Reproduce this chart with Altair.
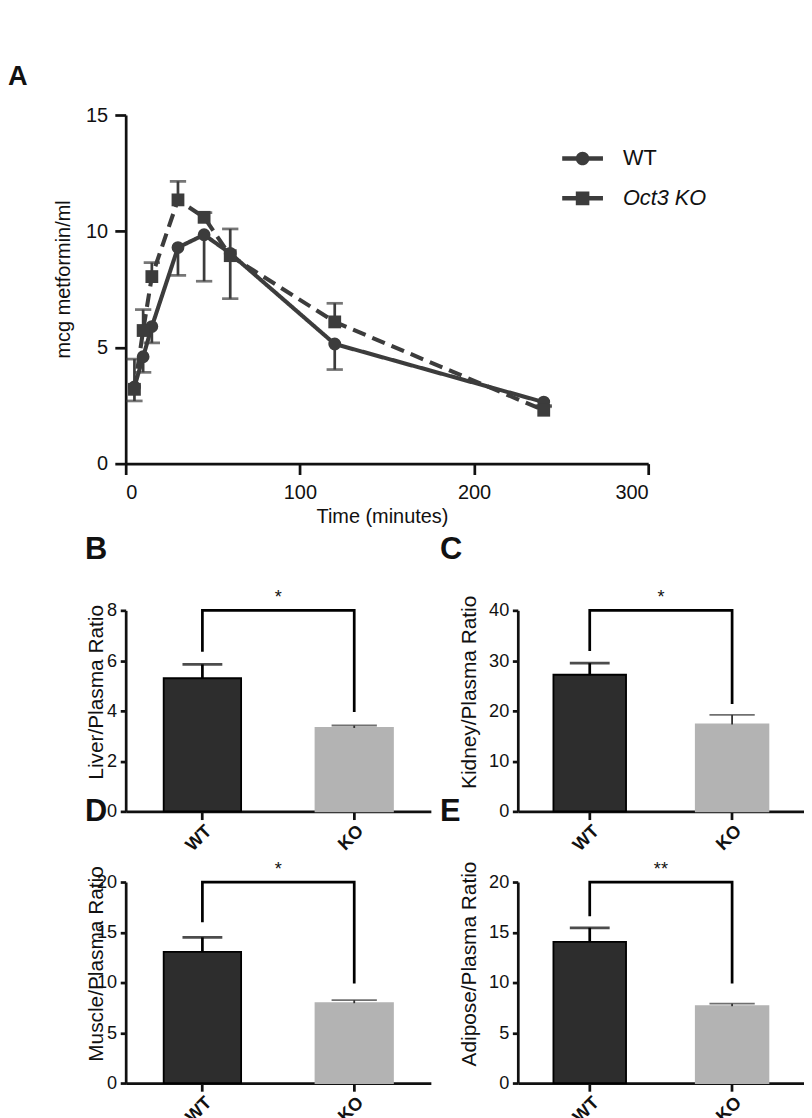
import altair as alt
import pandas as pd

FONT = "Liberation Sans"
INK = "#111111"
SER = "#3c3c3c"
WT_FILL = "#2d2d2d"
KO_FILL = "#b3b3b3"
PAD_IN = 0.49
PAD_OUT = 0.25

# ---------------- Panel A data ----------------
times = [5, 10, 15, 30, 45, 60, 120, 240]
wt_mean = [3.3, 4.6, 5.9, 9.3, 9.85, 9.05, 5.15, 2.65]
wt_err = [0.6, 0.67, 0.7, 1.2, 2.0, 1.95, 1.1, 0.15]
ko_mean = [3.2, 5.73, 8.05, 11.35, 10.6, 8.95, 6.1, 2.3]
ko_err = [1.3, 0.9, 0.6, 0.8, 0.2, 1.15, 0.8, 0.15]
series_names = ["WT", "Oct3 KO"]

# ---------------- Panels B-E data ----------------
groups = ["WT", "KO"]
liver_mean = [5.3, 3.32]
liver_err = [0.55, 0.1]
liver_bracket = [6.35, 3.96]
kidney_mean = [27.2, 17.3]
kidney_err = [2.3, 1.9]
kidney_bracket = [31.9, 21.4]
muscle_mean = [13.05, 7.95]
muscle_err = [1.45, 0.3]
muscle_bracket = [16.0, 9.9]
adipose_mean = [14.05, 7.65]
adipose_err = [1.4, 0.25]
adipose_bracket = [16.6, 9.9]

rows = []
for name, means, errs, sign in [
    (series_names[0], wt_mean, wt_err, -1),
    (series_names[1], ko_mean, ko_err, 1),
]:
    for t, m, e in zip(times, means, errs):
        rows.append({"series": name, "t": t, "mean": m, "end": m + sign * e})
dfA = pd.DataFrame(rows)

WT_PATH = ("M-1,-0.11H1V0.11H-1Z M0.333,0A0.333,0.333,0,1,1,-0.333,0"
           "A0.333,0.333,0,1,1,0.333,0Z")
KO_PATH = "M-1,-0.11H1V0.11H-1Z M-0.333,-0.333H0.333V0.333H-0.333Z"

xA = alt.X(
    "t:Q",
    scale=alt.Scale(domain=[0, 300], nice=False, zero=True),
    axis=alt.Axis(values=[0, 100, 200, 300], title="Time (minutes)",
                  titleX=283, titleY=65, titleAlign="center",
                  titleBaseline="alphabetic", titleFontSize=22,
                  labelFontSize=22, tickSize=12, labelPadding=9),
)
yA_axis = alt.Axis(values=[0, 5, 10, 15], title="mcg metformin/ml",
                   titleX=-62, titleY=181, titleAlign="center",
                   titleBaseline="alphabetic", titleFontSize=22,
                   labelFontSize=22, tickSize=12, labelPadding=8)
yA_scale = alt.Scale(domain=[0, 15], nice=False)

baseA = alt.Chart(dfA)
linesA = baseA.mark_line(color=SER, strokeWidth=4.5).encode(
    x=xA,
    y=alt.Y("mean:Q", scale=yA_scale, axis=yA_axis),
    strokeDash=alt.StrokeDash("series:N",
                              scale=alt.Scale(domain=series_names, range=[[1, 0], [15, 8]]),
                              legend=None),
    detail="series:N",
)
errA = baseA.mark_rule(color=SER, strokeWidth=3).encode(
    x=xA,
    y=alt.Y("mean:Q", scale=yA_scale, axis=yA_axis),
    y2="end:Q",
)
capA = baseA.mark_tick(color=SER, orient="horizontal", size=18, thickness=3).encode(
    x=xA,
    y=alt.Y("end:Q", scale=yA_scale, axis=yA_axis),
)
pointsA = baseA.mark_point(filled=True, size=200, color=SER, opacity=1).encode(
    x=xA,
    y=alt.Y("mean:Q", scale=yA_scale, axis=yA_axis),
    shape=alt.Shape("series:N",
                    scale=alt.Scale(domain=series_names, range=["circle", "square"]),
                    legend=None),
)


def legend_layer(name, path, ly, style):
    return baseA.transform_filter("false").mark_point(
        filled=True, color=SER, opacity=1, size=2025
    ).encode(
        x=xA,
        y=alt.Y("mean:Q", scale=yA_scale, axis=yA_axis),
        shape=alt.Shape("series:N", scale=alt.Scale(domain=[name], range=[path]),
                        legend=alt.Legend(title=None, orient="none", legendX=482,
                                          legendY=ly, padding=0, symbolSize=2025,
                                          symbolStrokeWidth=0, symbolFillColor=SER,
                                          symbolOpacity=1, labelOffset=22,
                                          labelFont=FONT, labelFontSize=24,
                                          labelColor=INK, labelFontStyle=style)),
    )


chartA = alt.layer(
    linesA, errA, capA, pointsA,
    legend_layer(series_names[0], WT_PATH, 25.5, "normal"),
    legend_layer(series_names[1], KO_PATH, 69.5, "italic"),
).resolve_scale(shape="independent").properties(
    width=577, height=385,
    title=alt.TitleParams("A", anchor="start", frame="group", dx=-130, offset=-8,
                          fontSize=30, fontWeight="bold", font=FONT,
                          baseline="alphabetic", color=INK),
)


def bar_panel(letter, ytitle, top, ticks, means, errs, ends, sig, width,
              ytitle_x, letter_dx, letter_offset):
    bars = pd.DataFrame({"g": groups, "v": means,
                         "e": [m + e for m, e in zip(means, errs)]})
    bracket = pd.DataFrame({"g": [groups[0], groups[0], groups[1], groups[1]],
                            "b": [ends[0], top, top, ends[1]],
                            "k": [0, 1, 2, 3]})
    star = pd.DataFrame({"g": [groups[0]], "b": [top], "s": [sig]})

    step = width / (len(groups) - PAD_IN + 2 * PAD_OUT)
    half_gap = step * PAD_IN / 2

    xscale = alt.Scale(domain=groups, paddingInner=PAD_IN, paddingOuter=PAD_OUT)
    xaxis = alt.Axis(title=None, labelAngle=-45, labelFontSize=20,
                     labelFontWeight="bold", labelPadding=2, tickSize=9)
    yscale = alt.Scale(domain=[0, top], nice=False)
    yaxis = alt.Axis(values=ticks, title=ytitle, titleX=ytitle_x, titleY=90,
                     titleAlign="center", titleBaseline="alphabetic",
                     titleFontSize=23, labelFontSize=20, tickSize=6, labelPadding=4)
    X = alt.X("g:N", scale=xscale, axis=xaxis, sort=groups)

    bar = alt.Chart(bars).mark_bar(strokeWidth=2).encode(
        x=X,
        y=alt.Y("v:Q", scale=yscale, axis=yaxis),
        fill=alt.Fill("g:N", scale=alt.Scale(domain=groups, range=[WT_FILL, KO_FILL]), legend=None),
        stroke=alt.Stroke("g:N", scale=alt.Scale(domain=groups, range=["#000000", KO_FILL]), legend=None),
    )
    layers = [bar]
    for g, w, cap, col in [("WT", 3, 44, "#000000"), ("KO", 2, 50, "#333333")]:
        sub = alt.Chart(bars).transform_filter(alt.datum.g == g)
        layers.append(sub.mark_rule(color=col, strokeWidth=w).encode(
            x=X, y=alt.Y("v:Q", scale=yscale, axis=yaxis), y2="e:Q"))
        layers.append(sub.mark_tick(color=col, orient="horizontal", size=cap, thickness=w).encode(
            x=X, y=alt.Y("e:Q", scale=yscale, axis=yaxis)))
    layers.append(alt.Chart(bracket).mark_line(color="#000000", strokeWidth=3,
                                               strokeJoin="miter", strokeCap="butt").encode(
        x=X, y=alt.Y("b:Q", scale=yscale, axis=yaxis), order="k:O"))
    layers.append(alt.Chart(star).mark_text(font=FONT, fontSize=20, baseline="alphabetic",
                                            align="center", dy=-8, dx=half_gap,
                                            color=INK).encode(
        x=alt.X("g:N", scale=xscale, axis=xaxis, sort=groups, bandPosition=1),
        y=alt.Y("b:Q", scale=yscale, axis=yaxis),
        text="s:N"))
    return alt.layer(*layers).properties(
        width=width, height=222,
        title=alt.TitleParams(letter, anchor="start", frame="group", dx=letter_dx,
                              offset=letter_offset, fontSize=34, fontWeight="bold",
                              font=FONT, baseline="alphabetic", color=INK),
    )


chartB = bar_panel("B", "Liver/Plasma Ratio", 8, [0, 2, 4, 6, 8], liver_mean, liver_err,
                   liver_bracket, "*", 337, -26, -45, -1)
chartC = bar_panel("C", "Kidney/Plasma Ratio", 40, [0, 10, 20, 30, 40], kidney_mean, kidney_err,
                   kidney_bracket, "*", 316, -47, -86, -1)
chartD = bar_panel("D", "Muscle/Plasma Ratio", 20, [0, 5, 10, 15, 20], muscle_mean, muscle_err,
                   muscle_bracket, "*", 337, -26, -45, 9)
chartE = bar_panel("E", "Adipose/Plasma Ratio", 20, [0, 5, 10, 15, 20], adipose_mean, adipose_err,
                   adipose_bracket, "**", 316, -47, -86, 9)

grid = alt.concat(chartB, chartC, chartD, chartE, columns=2,
                  spacing={"row": 78, "column": 96}, bounds="flush")

chart = alt.vconcat(chartA, grid, spacing=9).properties(
    padding=0, background="white"
).configure_view(stroke=None).configure_axis(
    domainColor=INK, domainWidth=3, tickColor=INK, tickWidth=3,
    labelColor=INK, titleColor=INK, labelFont=FONT, titleFont=FONT,
    titleFontWeight="normal", grid=False,
)

chart.save("out.html", embed_options={"renderer": "svg", "actions": False})
